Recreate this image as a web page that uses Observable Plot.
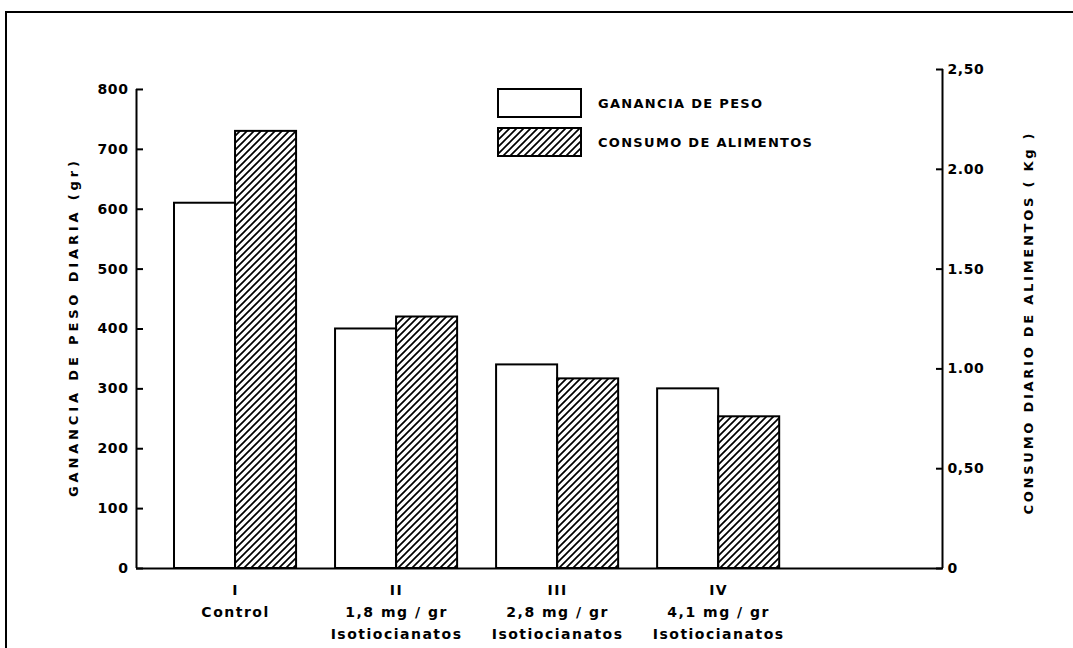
<!DOCTYPE html>
<html>
<head>
<meta charset="utf-8">
<script src="https://cdn.jsdelivr.net/npm/d3@7"></script>
<script src="https://cdn.jsdelivr.net/npm/@observablehq/plot@0.6"></script>
<style>
  html, body { margin: 0; padding: 0; background: #fff; overflow: hidden; }
  #wrap { position: relative; width: 1073px; height: 648px; overflow: hidden; font-family: "DejaVu Sans", sans-serif; color: #000; }
  #frame { position: absolute; left: 5px; top: 11px; width: 1200px; height: 800px; border-top: 2px solid #000; border-left: 2px solid #000; }
  #chart { position: absolute; left: 0; top: 0; }
  #chart svg { overflow: visible; }
  text[aria-label="xlab"] { letter-spacing: 1.5px; }
  g[aria-label="y-axis tick label"] text { letter-spacing: 0.6px; }
  .leg-item { position: absolute; left: 497px; display: flex; align-items: center; }
  .leg-item svg { display: block; }
  .leg-text { margin-left: 16px; font-size: 13px; font-weight: bold; letter-spacing: 1.3px; }
</style>
</head>
<body>
<div id="wrap">
  <svg width="0" height="0" style="position:absolute">
    <defs>
      <pattern id="hatch" patternUnits="userSpaceOnUse" width="7" height="7">
        <path d="M-1,1 l2,-2 M0,7 l7,-7 M6,8 l2,-2" stroke="#000" stroke-width="1.7"/>
      </pattern>
    </defs>
  </svg>
  <div id="frame"></div>
  <div id="chart"></div>
  <div id="legend"></div>
</div>
<script>
// ---- data ----
const grupos = ["I", "II", "III", "IV"];
const dosis = ["Control", "1,8 mg / gr", "2,8 mg / gr", "4,1 mg / gr"];
const sustancia = ["", "Isotiocianatos", "Isotiocianatos", "Isotiocianatos"];
const posiciones = [1, 2, 3, 4];
const gananciaPeso = [610, 400, 340, 300];          // gr / día (eje izquierdo)
const consumoAlimentos = [2.19, 1.26, 0.95, 0.76];  // Kg / día (eje derecho)
const ticksGr = [0, 100, 200, 300, 400, 500, 600, 700, 800];
const ticksKg = [0, 0.5, 1, 1.5, 2, 2.5];
const ticksKgLabels = ["0", "0,50", "1.00", "1.50", "2.00", "2,50"];
const serieNombres = ["GANANCIA DE PESO", "CONSUMO DE ALIMENTOS"];
const tituloIzq = "GANANCIA DE PESO DIARIA (gr)";
const tituloDer = "CONSUMO DIARIO DE ALIMENTOS ( Kg )";

// ---- scales ----
const K = 1000 / 3;              // 1 Kg on the right axis == 333.3 gr on the left axis
const xDomain = [0.385, 5.39];
const half = 0.379;              // bar width in group units
const idx = d3.range(grupos.length);
const kgLabel = d => ticksKgLabels[ticksKg.findIndex(k => Math.abs(k * K - d) < 1e-6)];

const chart = Plot.plot({
  width: 1073,
  height: 648,
  marginTop: 69,
  marginBottom: 80,
  marginLeft: 136,
  marginRight: 131,
  x: { domain: xDomain, axis: null },
  y: { domain: [0, 2.5 * K], axis: null },
  style: { fontFamily: "'DejaVu Sans', sans-serif", fontSize: "14px", color: "#000", background: "transparent" },
  marks: [
    // white bars: ganancia de peso
    Plot.rectY(idx, {
      x1: i => posiciones[i] - half, x2: i => posiciones[i],
      y: i => gananciaPeso[i],
      fill: "white", stroke: "black", strokeWidth: 2
    }),
    // hatched bars: consumo de alimentos (right axis)
    Plot.rectY(idx, {
      x1: i => posiciones[i], x2: i => posiciones[i] + half,
      y: i => consumoAlimentos[i] * K,
      fill: "url(#hatch)", stroke: "black", strokeWidth: 2
    }),
    // axis lines
    Plot.ruleY([0], { stroke: "black", strokeWidth: 2 }),
    Plot.ruleX([xDomain[0]], { y1: 0, y2: ticksGr[ticksGr.length - 1], stroke: "black", strokeWidth: 2 }),
    Plot.ruleX([xDomain[1]], { y1: 0, y2: ticksKg[ticksKg.length - 1] * K, stroke: "black", strokeWidth: 2 }),
    // left axis: inward ticks, then labels
    Plot.axisY(ticksGr, { anchor: "left", tickSize: 7, dx: 7, strokeWidth: 2, tickFormat: () => "", label: null }),
    Plot.axisY(ticksGr, {
      anchor: "left", tickSize: 0, tickPadding: 8,
      tickFormat: d => String(d), fontSize: 14, fontWeight: "bold", label: null
    }),
    // right axis: inward ticks, then labels
    Plot.axisY(ticksKg.map(k => k * K), { anchor: "right", tickSize: 7, dx: -7, strokeWidth: 2, tickFormat: () => "", label: null }),
    Plot.axisY(ticksKg.map(k => k * K), {
      anchor: "right", tickSize: 0, tickPadding: 5,
      tickFormat: kgLabel, fontSize: 14, fontWeight: "bold", label: null
    }),
    // x labels
    Plot.text(idx, {
      x: i => posiciones[i], y: 0,
      text: i => [grupos[i], dosis[i], sustancia[i]].filter(Boolean).join("\n"),
      lineAnchor: "top", dy: 11, lineHeight: 1.57,
      fontSize: 14, fontWeight: "bold", ariaLabel: () => "xlab"
    }),
    // axis titles
    Plot.text([tituloIzq], { frameAnchor: "left", textAnchor: "middle", dx: -63, dy: 10, rotate: -90, fontSize: 13, fontWeight: "bold", ariaLabel: () => "ylab-left" }),
    Plot.text([tituloDer], { frameAnchor: "right", textAnchor: "middle", dx: 86, dy: 5, rotate: -90, fontSize: 13, fontWeight: "bold", ariaLabel: () => "ylab-right" })
  ]
});
document.getElementById("chart").appendChild(chart);

// spread the rotated axis titles to the reference's length
d3.select(chart).selectAll('text[aria-label="ylab-left"]').attr("textLength", 336).attr("lengthAdjust", "spacing");
d3.select(chart).selectAll('text[aria-label="ylab-right"]').attr("textLength", 381).attr("lengthAdjust", "spacing");

// ---- legend ----
const legend = document.getElementById("legend");
const legendFills = ["white", "url(#hatch)"];
const legendTops = [88, 127];
serieNombres.forEach((name, i) => {
  const item = document.createElement("div");
  item.className = "leg-item";
  item.style.top = legendTops[i] + "px";
  item.innerHTML = `<svg width="85" height="30"><rect x="1" y="1" width="83" height="28" fill="${legendFills[i]}" stroke="#000" stroke-width="2"/></svg><span class="leg-text">${name}</span>`;
  legend.appendChild(item);
});
</script>
</body>
</html>
